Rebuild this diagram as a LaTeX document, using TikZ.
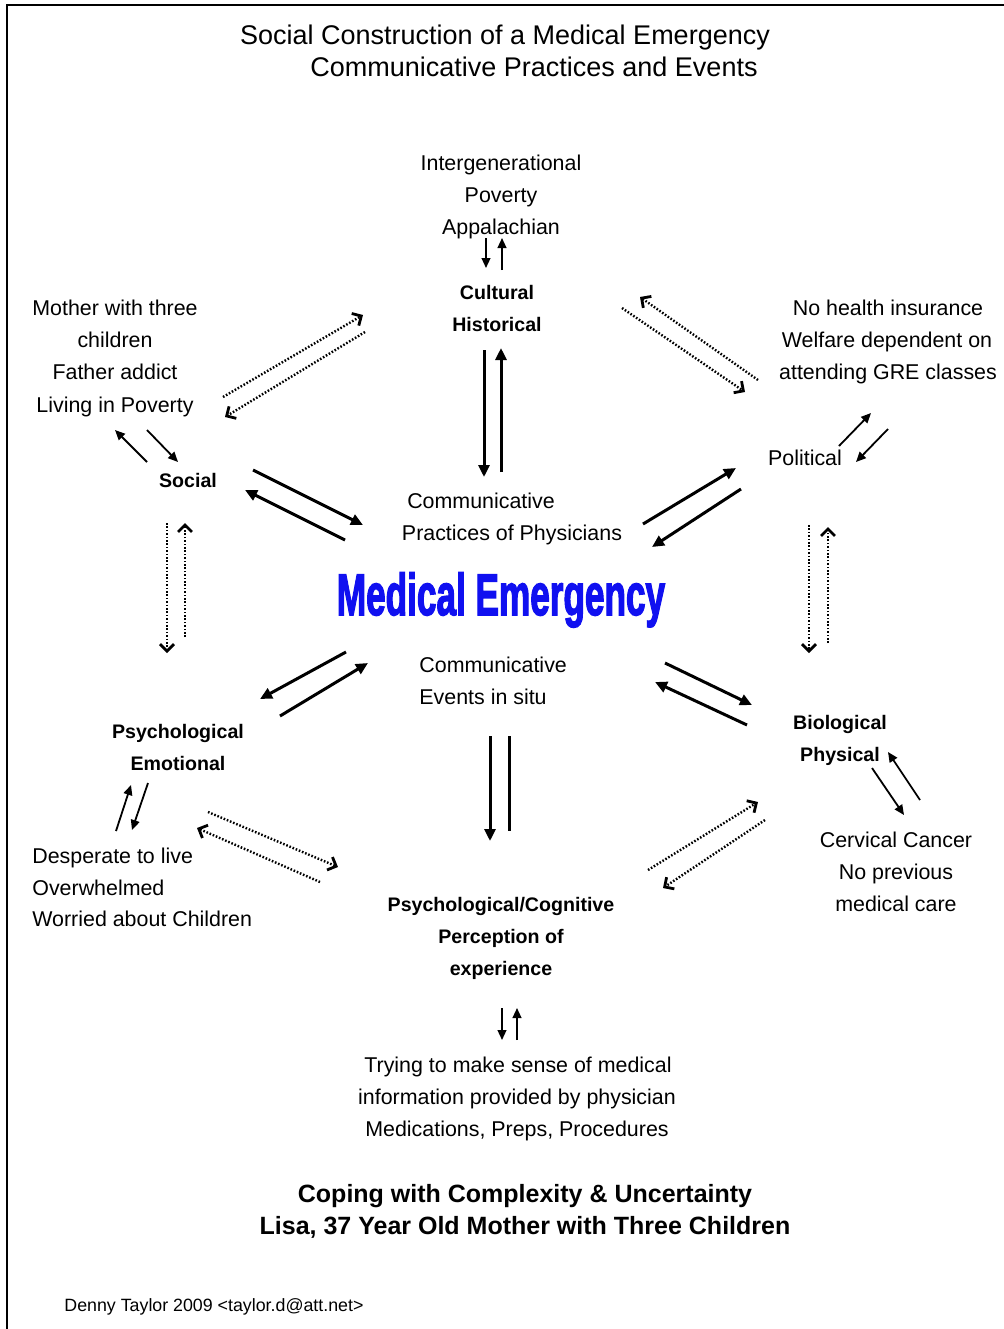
\documentclass[tikz,border=0pt]{standalone}
\usepackage{fontspec}
\usepackage{graphicx}
\setmainfont{Liberation Sans}
\newfontfamily\heavyfont{Liberation Sans Bold}[FakeBold=2.8]
\usetikzlibrary{arrows.meta}
\begin{document}
\begin{tikzpicture}[x=0.5pt,y=-0.5pt,
  txt/.style={anchor=base,inner sep=0pt,font=\fontsize{10.7}{13}\selectfont},
  lbl/.style={anchor=base,inner sep=0pt,font=\fontsize{9.8}{12}\selectfont\bfseries},
  ttl/.style={anchor=base,inner sep=0pt,font=\fontsize{13.5}{16}\selectfont},
  bttl/.style={anchor=base,inner sep=0pt,font=\fontsize{12.5}{15}\selectfont\bfseries},
  thinarrow/.style={line width=0.9pt,-{Triangle[length=5pt,width=4.4pt]}},
  thickarrow/.style={line width=1.5pt,-{Triangle[length=6pt,width=5.5pt]}},
  thickline/.style={line width=1.5pt},
  dotarrow/.style={line width=1.2pt,dash pattern=on 0.8pt off 0.9pt,
     -{Straight Barb[length=3.5pt,width=7pt,line width=1.4pt]}}
]
\useasboundingbox (0,0) rectangle (1004,1329);
\fill[white] (0,0) rectangle (1004,1329);

% frame (top and left edges)
\coordinate (fl) at (7,1329);
\coordinate (fc) at (7,5);
\coordinate (fr) at (1004,5);
\draw[line width=1pt] (fl) -- (fc) -- (fr);

% titles
\node[ttl] (t1) at (505,44) {Social Construction of a Medical Emergency};
\node[ttl] (t2) at (534,76) {Communicative Practices and Events};

% top cluster
\node[txt] (ig) at (501,170) {Intergenerational};
\node[txt] (pv) at (501,202) {Poverty};
\node[txt] (ap) at (501,234) {Appalachian};
\node[lbl] (cu) at (497,299) {Cultural};
\node[lbl] (hi) at (497,331) {Historical};

% centre
\node[txt] (cp1) at (481,508) {Communicative};
\node[txt] (cp2) at (512,540) {Practices of Physicians};
\node[anchor=base,inner sep=0pt,text={rgb,255:red,16;green,16;blue,240}] (me) at (501,615)
  {\scalebox{0.6}[1]{\fontsize{29.3}{30}\heavyfont Medical Emergency}};
\node[txt,anchor=base west] (ce1) at (419,672) {Communicative};
\node[txt,anchor=base west] (ce2) at (419,704) {Events in situ};

% bottom cluster
\node[lbl] (pc1) at (501,911) {Psychological/Cognitive};
\node[lbl] (pc2) at (501,943) {Perception of};
\node[lbl] (pc3) at (501,975) {experience};
\node[txt] (tr1) at (518,1072) {Trying to make sense of medical};
\node[txt] (tr2) at (517,1104) {information provided by physician};
\node[txt] (tr3) at (517,1136) {Medications, Preps, Procedures};
\node[bttl] (b1) at (525,1202) {Coping with Complexity \& Uncertainty};
\node[bttl] (b2) at (525,1234) {Lisa, 37 Year Old Mother with Three Children};
\node[anchor=base west,inner sep=0pt,font=\fontsize{8.9}{11}\selectfont] (ft) at (64,1311)
  {Denny Taylor 2009 <taylor.d@att.net>};

% left upper
\node[txt] (so1) at (115,315) {Mother with three};
\node[txt] (so2) at (115,347) {children};
\node[txt] (so3) at (115,379) {Father addict};
\node[txt] (so4) at (115,412) {Living in Poverty};
\node[lbl] (so) at (188,487) {Social};

% right upper
\node[txt] (po1) at (888,315) {No health insurance};
\node[txt] (po2) at (887,347) {Welfare dependent on};
\node[txt] (po3) at (888,379) {attending GRE classes};
\node[txt] (po) at (805,465) {Political};

% right lower
\node[lbl] (bi1) at (840,729) {Biological};
\node[lbl] (bi2) at (840,761) {Physical};
\node[txt] (cc1) at (896,847) {Cervical Cancer};
\node[txt] (cc2) at (896,879) {No previous};
\node[txt] (cc3) at (896,911) {medical care};

% left lower
\node[lbl] (ps1) at (178,738) {Psychological};
\node[lbl] (ps2) at (178,770) {Emotional};
\node[txt,anchor=base west] (de1) at (32,863) {Desperate to live};
\node[txt,anchor=base west] (de2) at (32,895) {Overwhelmed};
\node[txt,anchor=base west] (de3) at (32,926) {Worried about Children};

% arrow end points
\coordinate (a1) at (486,238);  \coordinate (a2) at (486,268);
\coordinate (a3) at (502,270);  \coordinate (a4) at (502,238);
\coordinate (s1) at (147,462);  \coordinate (s2) at (115,430);
\coordinate (s3) at (147,430);  \coordinate (s4) at (178,462);
\coordinate (p1) at (839,446);  \coordinate (p2) at (871,413);
\coordinate (p3) at (888,429);  \coordinate (p4) at (856,462);
\coordinate (h1) at (920,800);  \coordinate (h2) at (888,752);
\coordinate (h3) at (872,768);  \coordinate (h4) at (904,815);
\coordinate (e1) at (116,831);  \coordinate (e2) at (131,785);
\coordinate (e3) at (148,783);  \coordinate (e4) at (132,830);
\coordinate (g1) at (502,1008); \coordinate (g2) at (502,1040);
\coordinate (g3) at (517,1040); \coordinate (g4) at (517,1008);

\coordinate (c1) at (484,350);  \coordinate (c2) at (484,477);
\coordinate (c3) at (501,472);  \coordinate (c4) at (501,348);
\coordinate (l1) at (253,470);  \coordinate (l2) at (363,525);
\coordinate (l3) at (345,540);  \coordinate (l4) at (245,490);
\coordinate (r1) at (741,489);  \coordinate (r2) at (652,547);
\coordinate (r3) at (643,524);  \coordinate (r4) at (736,468);
\coordinate (m1) at (665,663);  \coordinate (m2) at (752,705);
\coordinate (m3) at (747,725);  \coordinate (m4) at (655,682);
\coordinate (n1) at (346,652);  \coordinate (n2) at (260,699);
\coordinate (n3) at (280,716);  \coordinate (n4) at (368,663);
\coordinate (v1) at (490,736);  \coordinate (v2) at (490,841);
\coordinate (v3) at (509,736);  \coordinate (v4) at (509,831);

\coordinate (d1) at (223,397);  \coordinate (d2) at (363,315);
\coordinate (d3) at (365,332);  \coordinate (d4) at (225,417);
\coordinate (d5) at (758,380);  \coordinate (d6) at (640,297);
\coordinate (d7) at (622,308);  \coordinate (d8) at (745,392);
\coordinate (k1) at (167,523);  \coordinate (k2) at (167,653);
\coordinate (k3) at (185,637);  \coordinate (k4) at (185,523);
\coordinate (k5) at (809,525);  \coordinate (k6) at (809,653);
\coordinate (k7) at (828,643);  \coordinate (k8) at (828,527);
\coordinate (q1) at (648,870);  \coordinate (q2) at (758,802);
\coordinate (q3) at (765,820);  \coordinate (q4) at (663,888);
\coordinate (q5) at (208,812);  \coordinate (q6) at (338,867);
\coordinate (q7) at (320,882);  \coordinate (q8) at (197,828);

% short solid arrows
\foreach \a/\b in {a1/a2,a3/a4,s1/s2,s3/s4,p1/p2,p3/p4,h1/h2,h3/h4,e1/e2,e3/e4,g1/g2,g3/g4}
  \draw[thinarrow] (\a) -- (\b);
% long solid arrows
\foreach \a/\b in {c1/c2,c3/c4,l1/l2,l3/l4,r1/r2,r3/r4,m1/m2,m3/m4,n1/n2,n3/n4,v1/v2}
  \draw[thickarrow] (\a) -- (\b);
\draw[thickline] (v3) -- (v4);
% dotted arrows
\foreach \a/\b in {d1/d2,d3/d4,d5/d6,d7/d8,k1/k2,k3/k4,k5/k6,k7/k8,q1/q2,q3/q4,q5/q6,q7/q8}
  \draw[dotarrow] (\a) -- (\b);
\end{tikzpicture}
\end{document}
